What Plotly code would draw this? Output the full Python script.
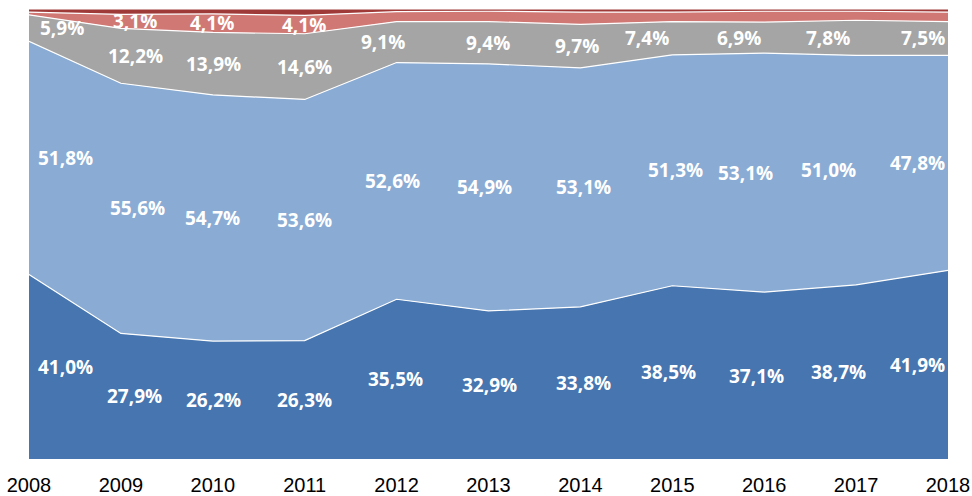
import plotly.graph_objects as go

years = [2008, 2009, 2010, 2011, 2012, 2013, 2014, 2015, 2016, 2017, 2018]
dark_blue = [41.0, 27.9, 26.2, 26.3, 35.5, 32.9, 33.8, 38.5, 37.1, 38.7, 41.9]
light_blue = [51.8, 55.6, 54.7, 53.6, 52.6, 54.9, 53.1, 51.3, 53.1, 51.0, 47.8]
gray = [5.9, 12.2, 13.9, 14.6, 9.1, 9.4, 9.7, 7.4, 6.9, 7.8, 7.5]
red = [0.6, 3.1, 4.1, 4.1, 2.2, 2.3, 2.7, 2.1, 2.4, 2.0, 2.1]
dark_red = [0.7, 1.2, 1.1, 1.4, 0.6, 0.5, 0.7, 0.7, 0.5, 0.5, 0.7]

# which series show value labels
labelled = [True, True, True, [False, True, True, True] + [False] * 7, False]

series = [dark_blue, light_blue, gray, red, dark_red]
colors = ["#4675AF", "#8AACD4", "#A5A5A5", "#D07874", "#9E3A38"]

# horizontal pixel nudges of the value labels (styling only)
label_nudge = [
    [36, 14, 1, 0, -1, 1, 3, -4, -8, -18, -31],
    [36, 17, 0, 0, -4, -4, 3, 3, -19, -28, -31],
    [33, 15, 1, 0, -14, -1, -3, -25, -25, -28, -25],
    [0, 14, -1, -1, 0, 0, 0, 0, 0, 0, 0],
    [0] * 11,
]

fig = go.Figure()
for vals, col in zip(series, colors):
    fig.add_trace(go.Scatter(
        x=years, y=vals, mode="lines", stackgroup="one",
        line=dict(color="white", width=1.2), fillcolor=col,
        hoverinfo="skip", showlegend=False,
    ))

def fmt(v):
    return f"{v:.1f}%".replace(".", ",")

base = [0.0] * len(years)
for si, vals in enumerate(series):
    lab = labelled[si]
    for i, yr in enumerate(years):
        show = lab if isinstance(lab, bool) else lab[i]
        if show:
            fig.add_annotation(
                x=yr, y=base[i] + vals[i] / 2, xref="x", yref="y",
                text="<b>" + fmt(vals[i]) + "</b>", showarrow=False,
                xshift=label_nudge[si][i],
                font=dict(family="Open Sans", size=19, color="white"),
            )
    base = [b + v for b, v in zip(base, vals)]

fig.update_layout(
    width=972, height=496,
    margin=dict(l=29, r=24, t=9, b=37, autoexpand=False),
    paper_bgcolor="white", plot_bgcolor="white",
    xaxis=dict(
        range=[2008, 2018], tickvals=years, ticktext=[str(y) for y in years],
        showgrid=False, zeroline=False, showline=False, ticks="",
        automargin=False, ticklabelstandoff=12, ticklabeloverflow="allow",
        tickfont=dict(family="Liberation Sans", size=20, color="black"),
    ),
    yaxis=dict(range=[0, 100], visible=False, automargin=False),
)

fig.write_html(
    "out.html",
    config={"displayModeBar": False, "staticPlot": True},
    post_script="document.body.style.margin='0';document.body.style.overflow='hidden';",
)
